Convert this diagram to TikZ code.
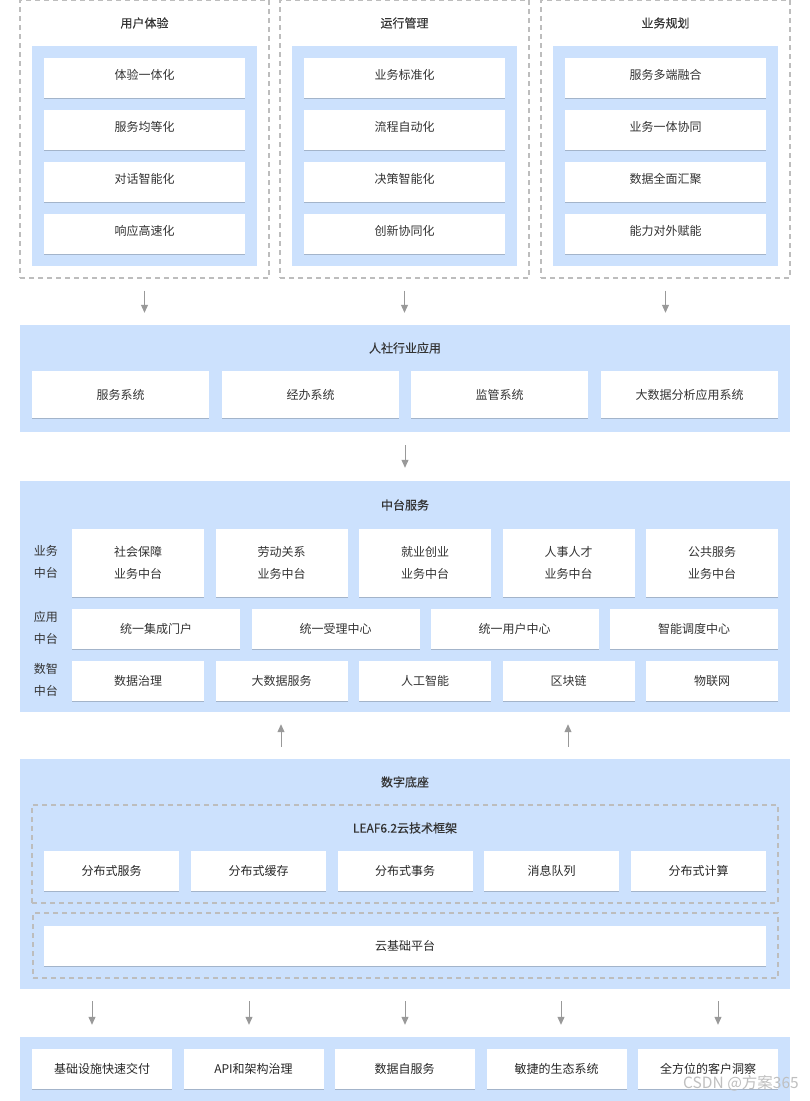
\documentclass[tikz,border=0pt]{standalone}
\usepackage{fontspec}
\setmainfont{Noto Sans CJK SC}
\newfontfamily\titlefont{Noto Sans CJK SC}[FakeBold=0.35]
\usepackage{tikz}
\usetikzlibrary{positioning, arrows.meta, shadows}
\usepackage{xcolor}

\definecolor{panelblue}{HTML}{CCE1FD}
\definecolor{dashgray}{HTML}{BDBDBD}
\definecolor{arrowgray}{HTML}{999999}
\definecolor{textgray}{HTML}{333333}

\tikzset{
  panel/.style={fill=panelblue, inner sep=0pt},
  card/.style={fill=white, inner sep=0pt, text=textgray,
    drop shadow={shadow xshift=0.4pt, shadow yshift=-1.4pt, fill=black, opacity=0.2}},
  highcard/.style={card, text height=8.5pt, text depth=5.5pt},
  frame/.style={draw=dashgray, line width=1.3pt, dash pattern=on 5pt off 4pt, inner sep=0pt},
  title/.style={font=\fontsize{12}{14}\selectfont\titlefont, text=textgray},
  sidelabel/.style={align=center, font=\fontsize{12}{22}\selectfont, text=textgray},
  arr/.style={draw=arrowgray, line width=1pt, -{Triangle[width=7pt, length=8pt]}}
}

\begin{document}
\begin{tikzpicture}[x=1pt, y=-1pt, font=\fontsize{12}{14}\selectfont, text=textgray]
    \useasboundingbox (0,0) rectangle (810,1101);

    % Top row: three dashed columns
    \foreach \col/\cx/\ttl/\items in {
        ux/144.5/用户体验/{体验一体化,服务均等化,对话智能化,响应高速化},
        ops/404.5/运行管理/{业务标准化,流程自动化,决策智能化,创新协同化},
        plan/665.5/业务规划/{服务多端融合,业务一体协同,数据全面汇聚,能力对外赋能}} {
        \node[frame, minimum width=249pt, minimum height=278pt] (\col) at (\cx,139) {};
        \node[title] (\col-t) at (\cx,23) {\ttl};
        \node[panel, minimum width=225pt, minimum height=220pt] (\col-bg) at (\cx,156) {};
        \foreach \it [count=\j] in \items {
            \node[highcard, minimum width=201pt, minimum height=40pt] (\col-\j) at (\cx,26+52*\j) {\it};
        }
    }

    % Industry applications
    \node[panel, minimum width=770pt, minimum height=107pt] (app) at (405,378.5) {};
    \node[title] (app-t) at (405,348) {人社行业应用};
    \foreach \it/\cx [count=\j] in {服务系统/120.5, 经办系统/310.5, 监管系统/499.5, 大数据分析应用系统/689.5}
        \node[card, minimum width=177pt, minimum height=47pt] (app-\j) at (\cx,394.5) {\it};

    \foreach \col in {ux,ops,plan}
        \draw[arr] ([yshift=-12pt]\col.south) -- ([yshift=12pt]app.north -| \col.south);

    % Middle platform services
    \node[panel, minimum width=770pt, minimum height=231pt] (mid) at (405,596.5) {};
    \node[title] (mid-t) at (405,505) {中台服务};
    \draw[arr] ([yshift=-13pt]app.south) -- ([yshift=13pt]mid.north);

    \node[sidelabel] (lbl-biz) at (46,562) {业务\\中台};
    \node[sidelabel] (lbl-app) at (46,628) {应用\\中台};
    \node[sidelabel] (lbl-data) at (46,680) {数智\\中台};

    \foreach \it/\cx [count=\j] in {社会保障/138, 劳动关系/281.5, 就业创业/425, 人事人才/568.5, 公共服务/712}
        \node[card, align=center, font=\fontsize{12}{22}\selectfont, minimum width=132pt, minimum height=68pt]
            (biz-\j) at (\cx,563) {\it\\业务中台};
    \foreach \it/\cx [count=\j] in {统一集成门户/156, 统一受理中心/335.5, 统一用户中心/514.5, 智能调度中心/694}
        \node[card, minimum width=168pt, minimum height=40pt] (apc-\j) at (\cx,629) {\it};
    \foreach \it/\cx [count=\j] in {数据治理/138, 大数据服务/281.5, 人工智能/425, 区块链/568.5, 物联网/712}
        \node[card, minimum width=132pt, minimum height=40pt] (dat-\j) at (\cx,681) {\it};

    % Digital base
    \node[panel, minimum width=770pt, minimum height=230pt] (base) at (405,874) {};
    \node[title] (base-t) at (405,782) {数字底座};
    \foreach \dx in {-124,163}
        \draw[arr] ([xshift=\dx pt, yshift=12pt]base.north) -- ([xshift=\dx pt, yshift=-12pt]mid.south);

    \node[frame, minimum width=746pt, minimum height=98pt] (leaf) at (405,854) {};
    \node[title] (leaf-t) at (405,828) {LEAF6.2云技术框架};
    \foreach \it/\cx [count=\j] in {分布式服务/111.5, 分布式缓存/258.5, 分布式事务/405, 消息队列/551.5, 分布式计算/698.5}
        \node[card, text=black!85, minimum width=135pt, minimum height=40pt] (leaf-\j) at (\cx,871) {\it};

    \node[frame, minimum width=745pt, minimum height=65pt] (cloud) at (405.5,945.5) {};
    \node[card, text=black!85, minimum width=722pt, minimum height=40pt] (cloud-1) at (405,946) {云基础平台};

    % Outcomes
    \node[panel, minimum width=770pt, minimum height=64pt] (out) at (405,1069) {};
    \foreach \dx in {-313,-156,0,156,313}
        \draw[arr] ([xshift=\dx pt, yshift=-12pt]base.south) -- ([xshift=\dx pt, yshift=12pt]out.north);
    \foreach \it/\cx [count=\j] in {基础设施快速交付/102, API和架构治理/253.5, 数据自服务/404.5, 敏捷的生态系统/556.5, 全方位的客户洞察/708}
        \node[card, text=black!85, minimum width=140pt, minimum height=40pt] (out-\j) at (\cx,1069) {\it};

    \node[anchor=west, inner sep=0pt, text=gray!50, font=\fontsize{15.5}{17}\selectfont] (mark) at (683,1083) {CSDN @方案365};
\end{tikzpicture}
\end{document}
